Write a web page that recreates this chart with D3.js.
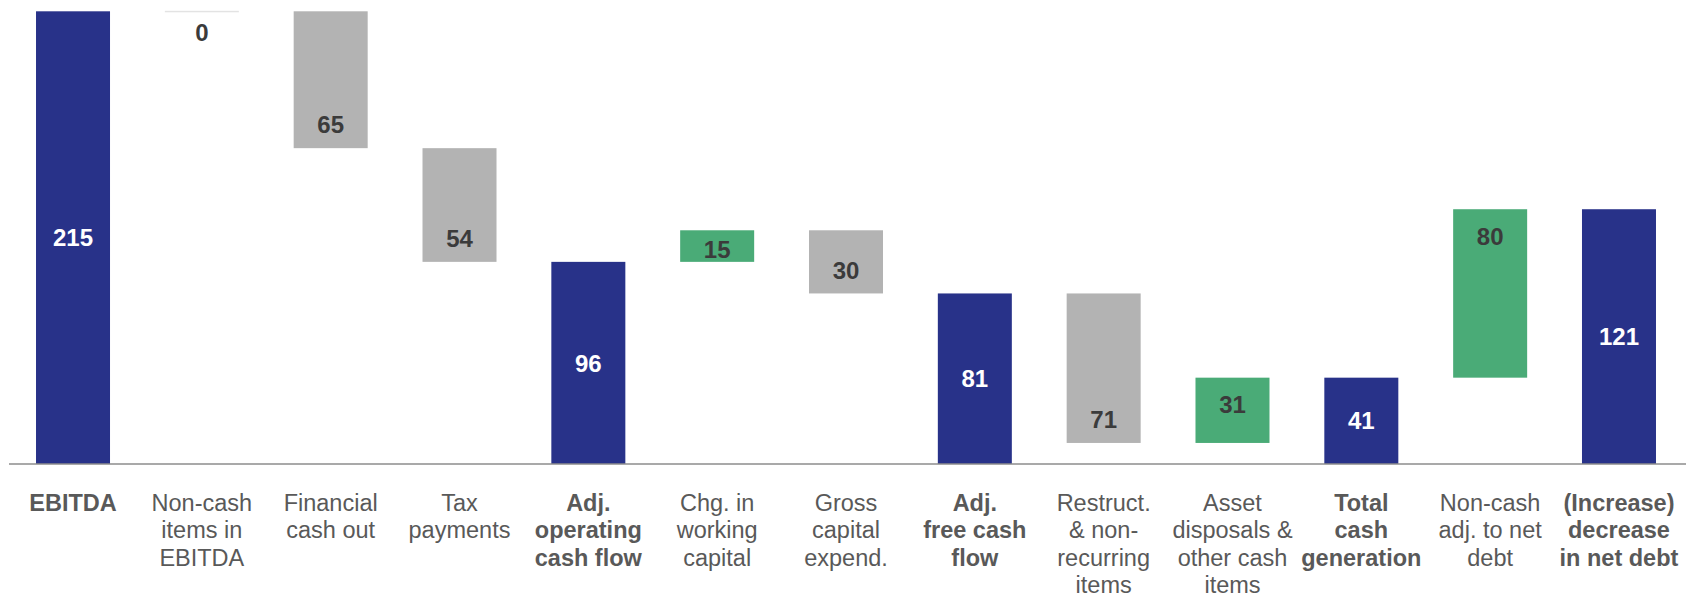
<!DOCTYPE html>
<html>
<head>
<meta charset="utf-8">
<script src="https://cdn.jsdelivr.net/npm/d3@7"></script>
<style>
  body { margin: 0; background: #fff; }
  text { font-family: "Liberation Sans", Arial, sans-serif; }
</style>
</head>
<body>
<div id="chart"></div>
<script>
const WIDTH = 1686
const HEIGHT = 599

// data
const categories = [
  "EBITDA", "Non-cash\nitems in\nEBITDA", "Financial\ncash out", "Tax\npayments",
  "Adj.\noperating\ncash flow", "Chg. in\nworking\ncapital", "Gross\ncapital\nexpend.",
  "Adj.\nfree cash\nflow", "Restruct.\n& non-\nrecurring\nitems", "Asset\ndisposals &\nother cash\nitems",
  "Total\ncash\ngeneration", "Non-cash\nadj. to net\ndebt", "(Increase)\ndecrease\nin net debt"
]
const values = [215, 0, -65, -54, 96, 15, -30, 81, -71, 31, 41, 80, 121]
const totals = [true, false, false, false, true, false, false, true, false, false, true, false, true]

const COLORS = { total: "#283289", up: "#4aab77", down: "#b3b3b3", zero: "#e3e3e3" }

// build waterfall steps
let running = 0
const steps = categories.map((c, i) => {
  let start, end, kind
  if (totals[i]) {
    start = 0; end = values[i]; kind = "total"
  } else {
    start = running; end = running + values[i]
    kind = values[i] > 0 ? "up" : (values[i] < 0 ? "down" : "zero")
  }
  running = end
  return { cat: c, value: values[i], start, end, kind }
})

const svg = d3.select("#chart").append("svg")
  .attr("width", WIDTH)
  .attr("height", HEIGHT)

// scales
const x = d3.scaleBand()
  .domain(categories)
  .range([8.6, 1683.4])
  .paddingInner(0.4256)
  .paddingOuter(0.2128)

const y = d3.scaleLinear()
  .domain([0, 215])
  .range([464, 11.3])

// bars
svg.selectAll("rect.bar")
  .data(steps)
  .enter().append("rect")
    .attr("class", "bar")
    .attr("x", d => x(d.cat))
    .attr("width", x.bandwidth())
    .attr("y", d => d.kind === "zero" ? y(d.end) - 0.5 : y(Math.max(d.start, d.end)))
    .attr("height", d => d.kind === "zero" ? 1.5 : Math.abs(y(d.start) - y(d.end)))
    .attr("fill", d => COLORS[d.kind])

// axis line
svg.append("line")
  .attr("x1", 9)
  .attr("x2", WIDTH)
  .attr("y1", y(0))
  .attr("y2", y(0))
  .attr("stroke", "#8c8c8c")
  .attr("stroke-width", 1.5)

// value labels
function labelCenter(d) {
  const top = y(Math.max(d.start, d.end))
  const bot = y(Math.min(d.start, d.end))
  const h = bot - top
  if (d.kind === "total") return (top + bot) / 2
  if (d.kind === "zero") return y(d.end) + 21
  if (h < 50) return (top + bot) / 2 + 3
  return d.kind === "up" ? top + 27 : bot - 23.5
}

svg.selectAll("text.value")
  .data(steps)
  .enter().append("text")
    .attr("class", "value")
    .attr("x", d => x(d.cat) + x.bandwidth() / 2)
    .attr("y", d => labelCenter(d) + 8.6)
    .attr("text-anchor", "middle")
    .attr("font-size", "24px")
    .attr("font-weight", "bold")
    .attr("fill", d => d.kind === "total" ? "#ffffff" : "#3b3b3b")
    .text(d => Math.abs(d.value))

// category labels
const catLabels = svg.selectAll("text.cat")
  .data(steps)
  .enter().append("text")
    .attr("class", "cat")
    .attr("x", d => x(d.cat) + x.bandwidth() / 2)
    .attr("y", 511)
    .attr("text-anchor", "middle")
    .attr("font-size", "23.5px")
    .attr("font-weight", d => d.kind === "total" ? "bold" : "normal")
    .attr("fill", "#595959")

catLabels.each(function(d) {
  const t = d3.select(this)
  d.cat.split("\n").forEach((line, i) => {
    t.append("tspan")
      .attr("x", x(d.cat) + x.bandwidth() / 2)
      .attr("dy", i === 0 ? 0 : 27.4)
      .text(line)
  })
})
</script>
</body>
</html>
